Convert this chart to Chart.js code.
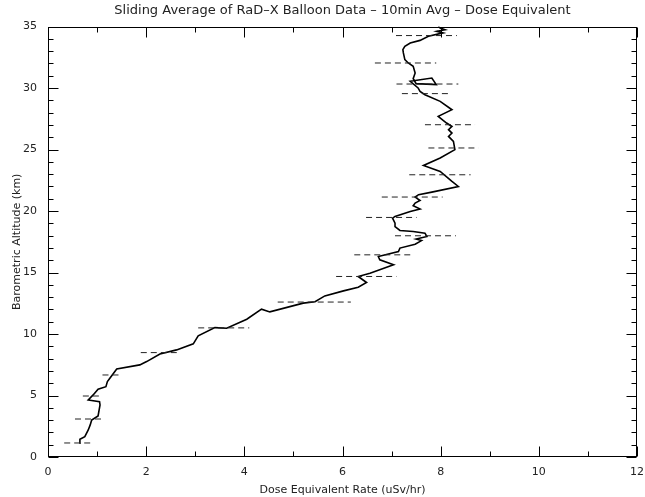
<!DOCTYPE html>
<html>
<head>
<meta charset="utf-8">
<script src="https://cdn.jsdelivr.net/npm/chart.js@4"></script>
<style>
  html, body { margin: 0; padding: 0; background: #fff; }
  #wrap { width: 645px; height: 497px; }
</style>
</head>
<body>
<div id="wrap"><canvas id="c" width="645" height="497"></canvas></div>
<script>
// ---- data ----
const doseRate = [0.64,0.65,0.75,0.82,0.86,0.89,1.02,1.06,1.05,0.82,0.92,1.02,1.18,1.21,1.26,1.40,1.87,2.01,2.28,2.62,2.96,3.06,3.40,3.64,4.05,4.35,4.52,5.20,5.44,5.64,6.02,6.32,6.49,6.32,6.56,7.04,6.76,6.73,7.14,7.17,7.48,7.61,7.50,7.72,7.68,7.44,7.17,7.07,7.07,7.02,7.07,7.38,7.58,7.44,7.48,7.58,7.48,7.55,7.82,8.36,8.23,7.99,7.65,7.99,8.29,8.26,8.16,8.23,8.16,8.23,8.12,7.95,8.23,7.99,7.68,7.58,7.54,7.38,7.82,7.91,7.50,7.44,7.48,7.44,7.34,7.27,7.24,7.23,7.27,7.38,7.58,7.75,8.05,7.92,8.09,7.99,7.95];
const altitude = [1.12,1.44,1.65,2.20,2.61,3.01,3.34,4.23,4.50,4.64,5.05,5.51,5.72,6.13,6.41,7.16,7.49,7.76,8.38,8.71,9.20,9.85,10.52,10.47,11.20,12.02,11.80,12.51,12.62,13.10,13.51,13.81,14.19,14.68,14.95,15.63,16.03,16.30,16.71,16.99,17.30,17.60,17.72,17.93,18.20,18.34,18.42,18.74,19.01,19.42,19.56,19.97,20.16,20.43,20.65,20.86,21.14,21.33,21.54,22.00,22.41,23.22,23.71,24.31,24.99,25.66,26.07,26.34,26.62,26.88,27.16,27.70,28.24,28.92,29.46,29.73,30.01,30.55,30.82,30.28,30.36,30.77,31.23,31.77,32.04,32.31,32.86,33.13,33.40,33.67,33.88,34.21,34.49,34.62,34.75,34.89,35.00];

const errAltitude = [1.14,3.09,4.96,6.67,8.49,10.50,12.60,14.68,16.44,17.99,19.48,21.14,22.95,25.13,27.02,29.55,30.33,32.04,34.27];
const errLow      = [0.33,0.55,0.71,1.11,1.89,3.06,4.68,5.87,6.24,7.07,6.48,6.80,7.36,7.75,7.68,7.21,7.10,6.66,7.09];
const errHigh     = [0.90,1.11,1.06,1.45,2.69,4.10,6.17,7.10,7.38,8.31,7.51,8.04,8.61,8.77,8.70,8.19,8.36,7.91,8.33];

const xTicks = [0,2,4,6,8,10,12];
const xMinorTicks = [1,3,5,7,9,11];
const yTicks = [0,5,10,15,20,25,30,35];
const yMinorTicks = [1,2,3,4,6,7,8,9,11,12,13,14,16,17,18,19,21,22,23,24,26,27,28,29,31,32,33,34];

const titleText = 'Sliding Average of RaD\u2013X Balloon Data \u2013 10min Avg \u2013 Dose Equivalent';
const xTitle = 'Dose Equivalent Rate (uSv/hr)';
const yTitle = 'Barometric Altitude (km)';

// ---- datasets ----
const datasets = [];
errAltitude.forEach((a, i) => {
  datasets.push({
    data: [{x: errLow[i], y: a}, {x: errHigh[i], y: a}],
    showLine: true, borderColor: '#222', borderWidth: 1,
    borderDash: [6, 4], pointRadius: 0, fill: false
  });
});
datasets.push({
  data: doseRate.map((v, i) => ({x: v, y: altitude[i]})),
  showLine: true, borderColor: '#000', borderWidth: 1.6,
  pointRadius: 0, fill: false, tension: 0
});

const TEXT = '#222';
const FONT = 'DejaVu Sans';

const framePlugin = {
  id: 'frame',
  afterDraw(chart) {
    const {ctx, chartArea: a, scales: {x, y}} = chart;
    ctx.save();
    ctx.strokeStyle = '#000';
    ctx.lineWidth = 1;
    const L = Math.round(a.left) + 0.5, R = Math.round(a.right) - 0.5;
    const T = Math.round(a.top) + 0.5, B = Math.round(a.bottom) - 0.5;
    ctx.strokeRect(L, T, R - L, B - T);
    ctx.beginPath();
    const tick = (vals, len) => {
      vals.forEach(v => {
        const px = Math.round(x.getPixelForValue(v)) + 0.5;
        ctx.moveTo(px, B); ctx.lineTo(px, B - len);
        ctx.moveTo(px, T); ctx.lineTo(px, T + len);
      });
    };
    const ytick = (vals, len) => {
      vals.forEach(v => {
        const py = Math.round(y.getPixelForValue(v)) + 0.5;
        ctx.moveTo(L, py); ctx.lineTo(L + len, py);
        ctx.moveTo(R, py); ctx.lineTo(R - len, py);
      });
    };
    tick(xTicks, 10); tick(xMinorTicks, 5);
    ytick(yTicks, 10); ytick(yMinorTicks, 5);
    ctx.stroke();
    ctx.restore();
  }
};

new Chart(document.getElementById('c'), {
  type: 'scatter',
  data: { datasets },
  options: {
    responsive: false,
    animation: false,
    events: [],
    layout: { padding: { left: 0, right: 8, top: 0, bottom: 0 } },
    plugins: {
      legend: { display: false },
      tooltip: { enabled: false },
      title: {
        display: true, text: titleText, fullSize: false,
        color: TEXT, font: { family: FONT, size: 13, weight: 'normal' },
        padding: { top: 3, bottom: 8 }
      }
    },
    scales: {
      x: {
        type: 'linear', min: 0, max: 12,
        afterBuildTicks: s => { s.ticks = xTicks.map(v => ({value: v})); },
        afterFit: s => { s.height = 40; s.paddingLeft = 0; s.paddingRight = 0; },
        grid: { display: false, drawTicks: false },
        border: { display: false },
        ticks: { color: TEXT, font: { family: FONT, size: 11 }, padding: 9, maxRotation: 0 },
        title: { display: true, text: xTitle, color: TEXT, font: { family: FONT, size: 11 }, padding: { top: 0, bottom: 0 } }
      },
      y: {
        type: 'linear', min: 0, max: 35,
        afterBuildTicks: s => { s.ticks = yTicks.map(v => ({value: v})); },
        afterFit: s => { s.width = 48; },
        grid: { display: false, drawTicks: false },
        border: { display: false },
        ticks: { color: TEXT, font: { family: FONT, size: 11 }, padding: 11 },
        title: { display: true, text: yTitle, color: TEXT, font: { family: FONT, size: 11 }, padding: { top: 11, bottom: 0 } }
      }
    }
  },
  plugins: [framePlugin]
});
</script>
</body>
</html>
